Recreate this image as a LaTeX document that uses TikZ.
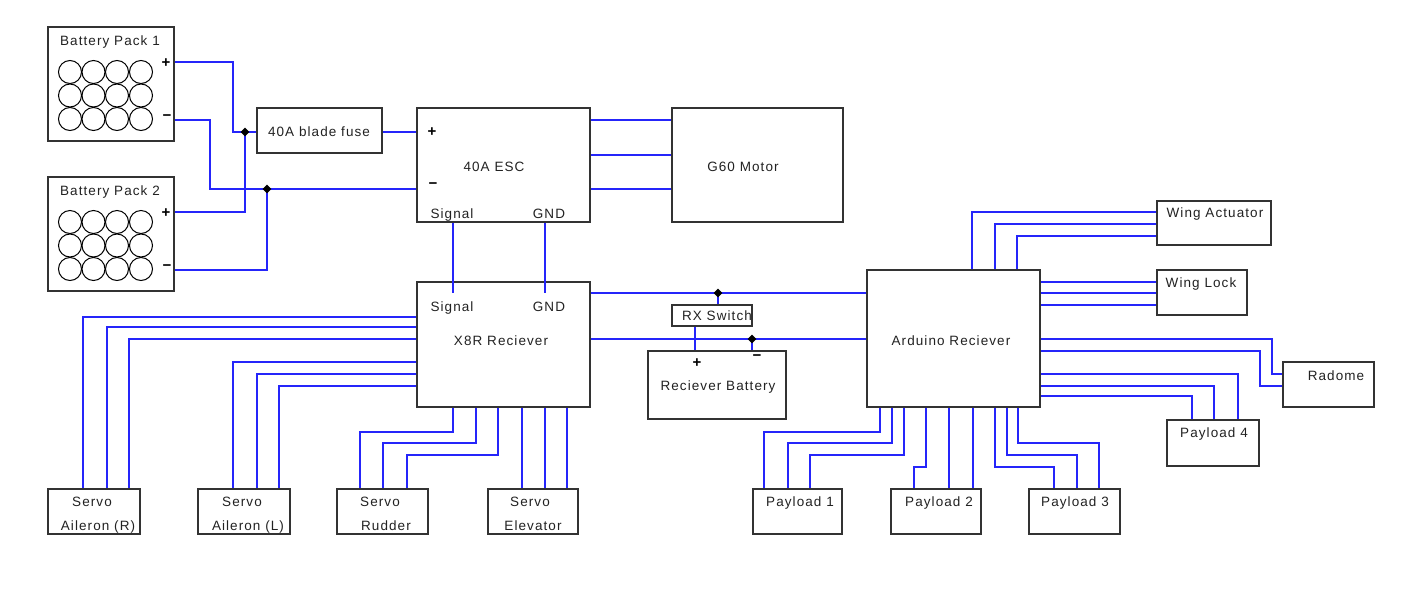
\documentclass[tikz,border=0pt]{standalone}
\usepackage{fontspec}
\setmainfont[LetterSpace=8]{Liberation Sans}
\usetikzlibrary{shapes.geometric}
\definecolor{wireblue}{HTML}{2525FA}
\definecolor{boxgray}{HTML}{333333}
\definecolor{txtgray}{HTML}{222222}
\tikzset{
  box/.style={draw=boxgray,line width=1.3pt,fill=white,inner sep=0pt},
  wire/.style={draw=wireblue,line width=1.6pt,line join=miter},
  lbl/.style={text=txtgray,inner sep=0pt,text height=9.5pt,text depth=0pt,font=\fontsize{13.5}{13.5}\selectfont},
  sgn/.style={text=black,inner sep=0pt,font=\fontsize{15}{15}\selectfont\bfseries},
  junction/.style={diamond,fill=black,inner sep=0pt,minimum size=9pt},
  cell/.style={draw=black,line width=1pt}
}
\newcommand{\mkbox}[5]{\node[box,minimum width=#4 pt-#2 pt,minimum height=#5 pt-#3 pt] (#1) at ({(#2+#4)/2},{(#3+#5)/2}) {};}
\begin{document}
\begin{tikzpicture}[x=1pt,y=-1pt]
\useasboundingbox (0,0) rectangle (1411,590);
% boxes
\mkbox{bpa}{48}{27}{174}{141}
\mkbox{bpb}{48}{177}{174}{291}
\mkbox{fuse}{257}{108}{382}{153}
\mkbox{esc}{417}{108}{590}{222}
\mkbox{motor}{672}{108}{843}{222}
\mkbox{xr}{417}{282}{590}{407}
\mkbox{rxs}{672}{305}{752}{326}
\mkbox{rbat}{648}{351}{786}{419}
\mkbox{ard}{867}{270}{1040}{407}
\mkbox{wact}{1157}{201}{1271}{245}
\mkbox{wlock}{1157}{270}{1247}{315}
\mkbox{rad}{1283}{362}{1374}{407}
\mkbox{pfour}{1167}{420}{1259}{466}
\mkbox{pone}{753}{489}{842}{534}
\mkbox{ptwo}{891}{489}{981}{534}
\mkbox{pthree}{1029}{489}{1120}{534}
\mkbox{sr}{48}{489}{140}{534}
\mkbox{sl}{198}{489}{290}{534}
\mkbox{srud}{337}{489}{428}{534}
\mkbox{sele}{488}{489}{578}{534}
% battery cells
\foreach \yo in {0,150}{
  \foreach \cx in {70,93.5,117,141}{
    \foreach \cy in {72,95.5,119}{
      \draw[cell] (\cx,\cy+\yo) circle[radius=11.5];
    }
  }
}
% junctions
\coordinate (ja) at (245,132);
\coordinate (jb) at (267,189);
\coordinate (jc) at (718,293);
\coordinate (jd) at (752,339);
% power wires
\draw[wire] (bpa.east |- 0,62) -| (233,132) -- (fuse.west |- ja);
\draw[wire] (bpa.east |- 0,120) -| (210,189) -- (esc.west |- jb);
\draw[wire] (bpb.east |- 0,212) -| (ja);
\draw[wire] (bpb.east |- 0,270) -| (jb);
\draw[wire] (fuse.east |- ja) -- (esc.west |- ja);
\draw[wire] (esc.east |- 0,120) -- (motor.west |- 0,120);
\draw[wire] (esc.east |- 0,155) -- (motor.west |- 0,155);
\draw[wire] (esc.east |- 0,189) -- (motor.west |- 0,189);
\draw[wire] (453,0 |- esc.south) -- (453,293);
\draw[wire] (545,0 |- esc.south) -- (545,293);
% receiver rails
\draw[wire] (xr.east |- jc) -- (ard.west |- jc);
\draw[wire] (xr.east |- jd) -- (ard.west |- jd);
\draw[wire] (jc) -- (jc |- rxs.north);
\draw[wire] (jd) -- (jd |- rbat.north);
\draw[wire] (695,0 |- rxs.south) -- (695,0 |- rbat.north);
% servos
\draw[wire] (xr.west |- 0,317) -| (83,0 |- sr.north);
\draw[wire] (xr.west |- 0,327) -| (107,0 |- sr.north);
\draw[wire] (xr.west |- 0,339) -| (129,0 |- sr.north);
\draw[wire] (xr.west |- 0,362) -| (233,0 |- sl.north);
\draw[wire] (xr.west |- 0,374) -| (257,0 |- sl.north);
\draw[wire] (xr.west |- 0,386) -| (279,0 |- sl.north);
\draw[wire] (453,0 |- xr.south) |- (360,432) -- (360,0 |- srud.north);
\draw[wire] (476,0 |- xr.south) |- (383,443) -- (383,0 |- srud.north);
\draw[wire] (498,0 |- xr.south) |- (407,455) -- (407,0 |- srud.north);
\draw[wire] (522,0 |- xr.south) -- (522,0 |- sele.north);
\draw[wire] (545,0 |- xr.south) -- (545,0 |- sele.north);
\draw[wire] (567,0 |- xr.south) -- (567,0 |- sele.north);
% arduino outputs
\draw[wire] (972,0 |- ard.north) |- (wact.west |- 0,212);
\draw[wire] (995,0 |- ard.north) |- (wact.west |- 0,224);
\draw[wire] (1017,0 |- ard.north) |- (wact.west |- 0,236);
\draw[wire] (ard.east |- 0,282) -- (wlock.west |- 0,282);
\draw[wire] (ard.east |- 0,293) -- (wlock.west |- 0,293);
\draw[wire] (ard.east |- 0,305) -- (wlock.west |- 0,305);
\draw[wire] (ard.east |- 0,339) -| (1272,374) -- (rad.west |- 0,374);
\draw[wire] (ard.east |- 0,351) -| (1260,386) -- (rad.west |- 0,386);
\draw[wire] (ard.east |- 0,374) -| (1238,0 |- pfour.north);
\draw[wire] (ard.east |- 0,386) -| (1214,0 |- pfour.north);
\draw[wire] (ard.east |- 0,396) -| (1192,0 |- pfour.north);
\draw[wire] (880,0 |- ard.south) |- (764,432) -- (764,0 |- pone.north);
\draw[wire] (892,0 |- ard.south) |- (788,443) -- (788,0 |- pone.north);
\draw[wire] (904,0 |- ard.south) |- (810,455) -- (810,0 |- pone.north);
\draw[wire] (926,0 |- ard.south) |- (914,467) -- (914,0 |- ptwo.north);
\draw[wire] (949,0 |- ard.south) -- (949,0 |- ptwo.north);
\draw[wire] (973,0 |- ard.south) -- (973,0 |- ptwo.north);
\draw[wire] (995,0 |- ard.south) |- (1054,467) -- (1054,0 |- pthree.north);
\draw[wire] (1007,0 |- ard.south) |- (1077,455) -- (1077,0 |- pthree.north);
\draw[wire] (1018,0 |- ard.south) |- (1099,443) -- (1099,0 |- pthree.north);
% junction dots
\node[junction] (dota) at (ja) {};
\node[junction] (dotb) at (jb) {};
\node[junction] (dotc) at (jc) {};
\node[junction] (dotd) at (jd) {};
% labels
\node[lbl] (tbpa) at (110,41) {Battery Pack 1};
\node[lbl] (tbpb) at (110,191) {Battery Pack 2};
\node[sgn] (pbpa) at (166,63) {+};
\node[sgn] (mbpa) at (167,118) {−};
\node[sgn] (pbpb) at (166,213) {+};
\node[sgn] (mbpb) at (167,268) {−};
\node[lbl] (tfuse) at (319,132) {40A blade fuse};
\node[sgn] (pesc) at (432,132) {+};
\node[sgn] (mesc) at (433,186) {−};
\node[lbl] (tesc) at (494,167) {40A ESC};
\node[lbl] (sesc) at (452,214) {Signal};
\node[lbl] (gesc) at (549,214) {GND};
\node[lbl] (tmotor) at (743,167) {G60 Motor};
\node[lbl] (sxr) at (452,307) {Signal};
\node[lbl] (gxr) at (549,307) {GND};
\node[lbl] (txr) at (501,341) {X8R Reciever};
\node[lbl] (trxs) at (717,316) {RX Switch};
\node[sgn] (prb) at (697,363) {+};
\node[sgn] (mrb) at (757,358) {−};
\node[lbl] (trb) at (718,386) {Reciever Battery};
\node[lbl] (tard) at (951,341) {Arduino Reciever};
\node[lbl] (twact) at (1215,213) {Wing Actuator};
\node[lbl] (twlock) at (1201,283) {Wing Lock};
\node[lbl] (trad) at (1336,376) {Radome};
\node[lbl] (tpf) at (1214,433) {Payload 4};
\node[lbl] (tpo) at (800,502) {Payload 1};
\node[lbl] (tpt) at (939,502) {Payload 2};
\node[lbl] (tpr) at (1075,502) {Payload 3};
\node[lbl] (ssr) at (92,502) {Servo};
\node[lbl] (asr) at (98,526) {Aileron (R)};
\node[lbl] (ssl) at (242,502) {Servo};
\node[lbl] (asl) at (248,526) {Aileron (L)};
\node[lbl] (ssd) at (380,502) {Servo};
\node[lbl] (asd) at (386,526) {Rudder};
\node[lbl] (sse) at (530,502) {Servo};
\node[lbl] (ase) at (533,526) {Elevator};
\end{tikzpicture}
\end{document}
